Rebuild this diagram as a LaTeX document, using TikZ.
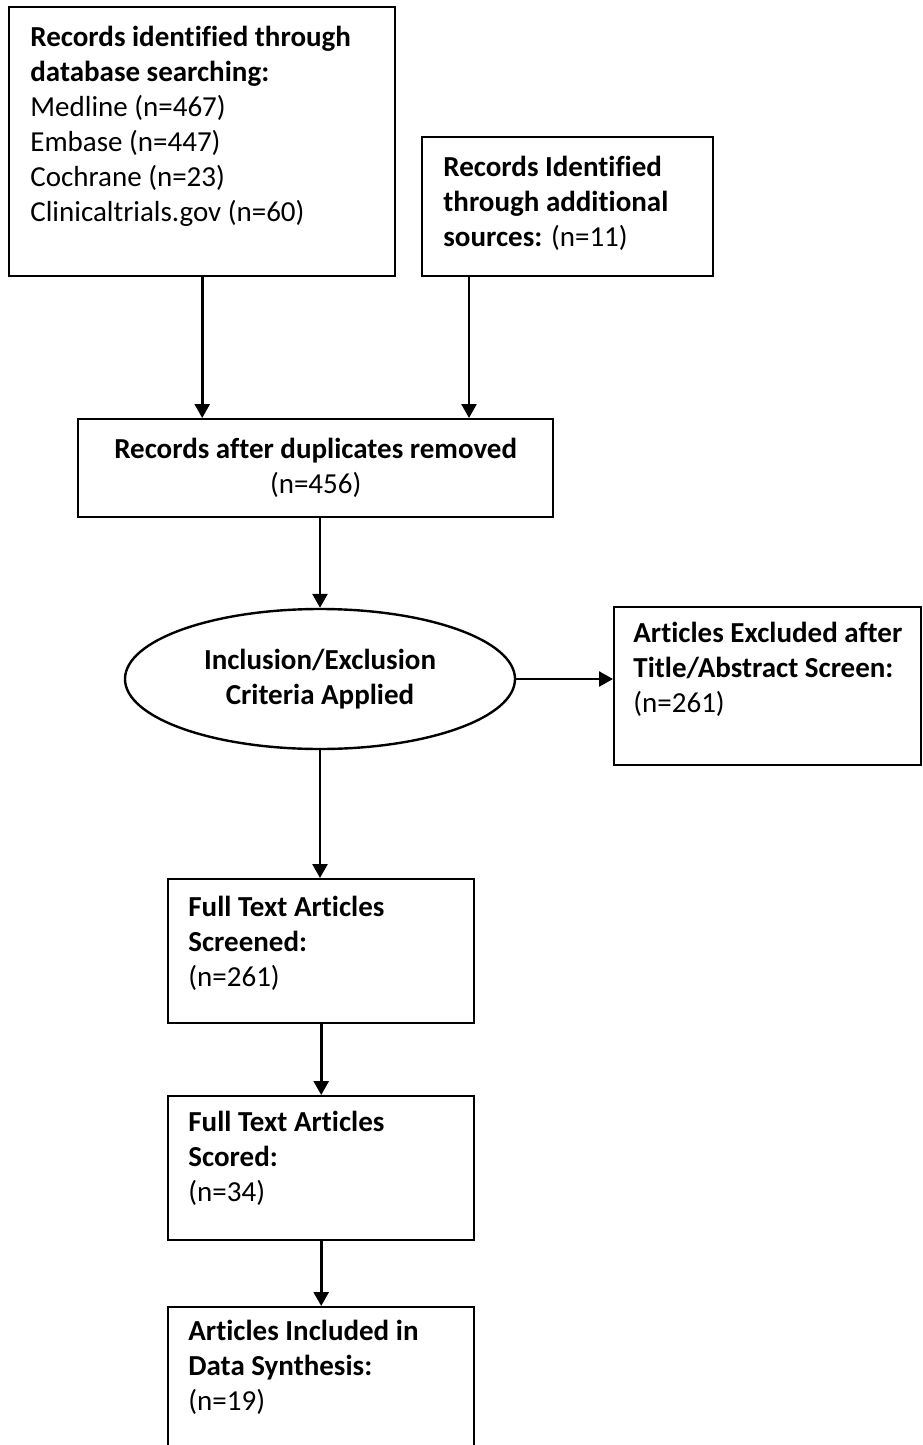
\documentclass[tikz,border=0pt]{standalone}
\usepackage{fontspec}
\setmainfont{Carlito}[Ligatures=NoCommon]
\usetikzlibrary{shapes.geometric,arrows.meta}
\begin{document}
\begin{tikzpicture}[x=0.5pt,y=-0.5pt,
  frame/.style={draw,line width=1.2pt,rectangle,inner sep=0pt,anchor=north west},
  txt/.style={font=\fontsize{14.5}{17.5}\selectfont,align=left,anchor=north west,inner sep=0pt},
  ctxt/.style={font=\fontsize{14.5}{17.5}\selectfont,align=center},
  arr/.style={-{Triangle[length=7pt,width=7.5pt]},line width=1.3pt}]
\useasboundingbox (0,0) rectangle (922,1445);
\clip (0,0) rectangle (922,1445);
% boxes
\node[frame,minimum width=193pt,minimum height=134.5pt] (b1) at (8,6) {};
\node[frame,minimum width=145.5pt,minimum height=69.5pt] (b2) at (421,136) {};
\node[frame,ctxt,minimum width=237.5pt,minimum height=49pt,anchor=north west] (b3) at (77,418)
  {\textbf{Records after duplicates removed}\\(n=456)};
\node[draw,line width=1.2pt,ellipse,ctxt,inner sep=0pt,minimum width=195pt,minimum height=70pt] (el) at (320,679)
  {\textbf{Inclusion/Exclusion}\\\textbf{Criteria Applied}};
\node[frame,minimum width=153.5pt,minimum height=79pt] (ex) at (613,606) {};
\node[frame,minimum width=153pt,minimum height=72pt] (b4) at (167,878) {};
\node[frame,minimum width=153pt,minimum height=72pt] (b5) at (167,1095) {};
\node[frame,minimum width=153pt,minimum height=80pt] (b6) at (167,1306) {};
% texts
\node[txt] (t1) at (30,26) {\textbf{Records identified through}\\\textbf{database searching:}\\Medline (n=467)\\Embase (n=447)\\Cochrane (n=23)\\Clinicaltrials.gov (n=60)};
\node[txt] (t2) at (443,156) {\textbf{Records Identified}\\\textbf{through additional}\\\textbf{sources:} (n=11)};
\node[txt] (t3) at (633,622) {\textbf{Articles Excluded after}\\\textbf{Title/Abstract Screen:}\\(n=261)};
\node[txt] (t4) at (188,896) {\textbf{Full Text Articles}\\\textbf{Screened:}\\(n=261)};
\node[txt] (t5) at (188,1111) {\textbf{Full Text Articles}\\\textbf{Scored:}\\(n=34)};
\node[txt] (t6) at (188,1320) {\textbf{Articles Included in}\\\textbf{Data Synthesis:}\\(n=19)};
% connectors
\draw[arr] (b1.south) -- (b1.south |- b3.north);
\draw[arr] ([xshift=24pt]b2.south west) -- ([xshift=24pt]b2.south west |- b3.north);
\draw[arr] (el.north |- b3.south) -- (el.north);
\draw[arr] (el.east) -- (el.east -| ex.west);
\draw[arr] (el.south) -- (el.south |- b4.north);
\draw[arr] (b4.south) -- (b5.north);
\draw[arr] (b5.south) -- (b6.north);
\end{tikzpicture}
\end{document}
